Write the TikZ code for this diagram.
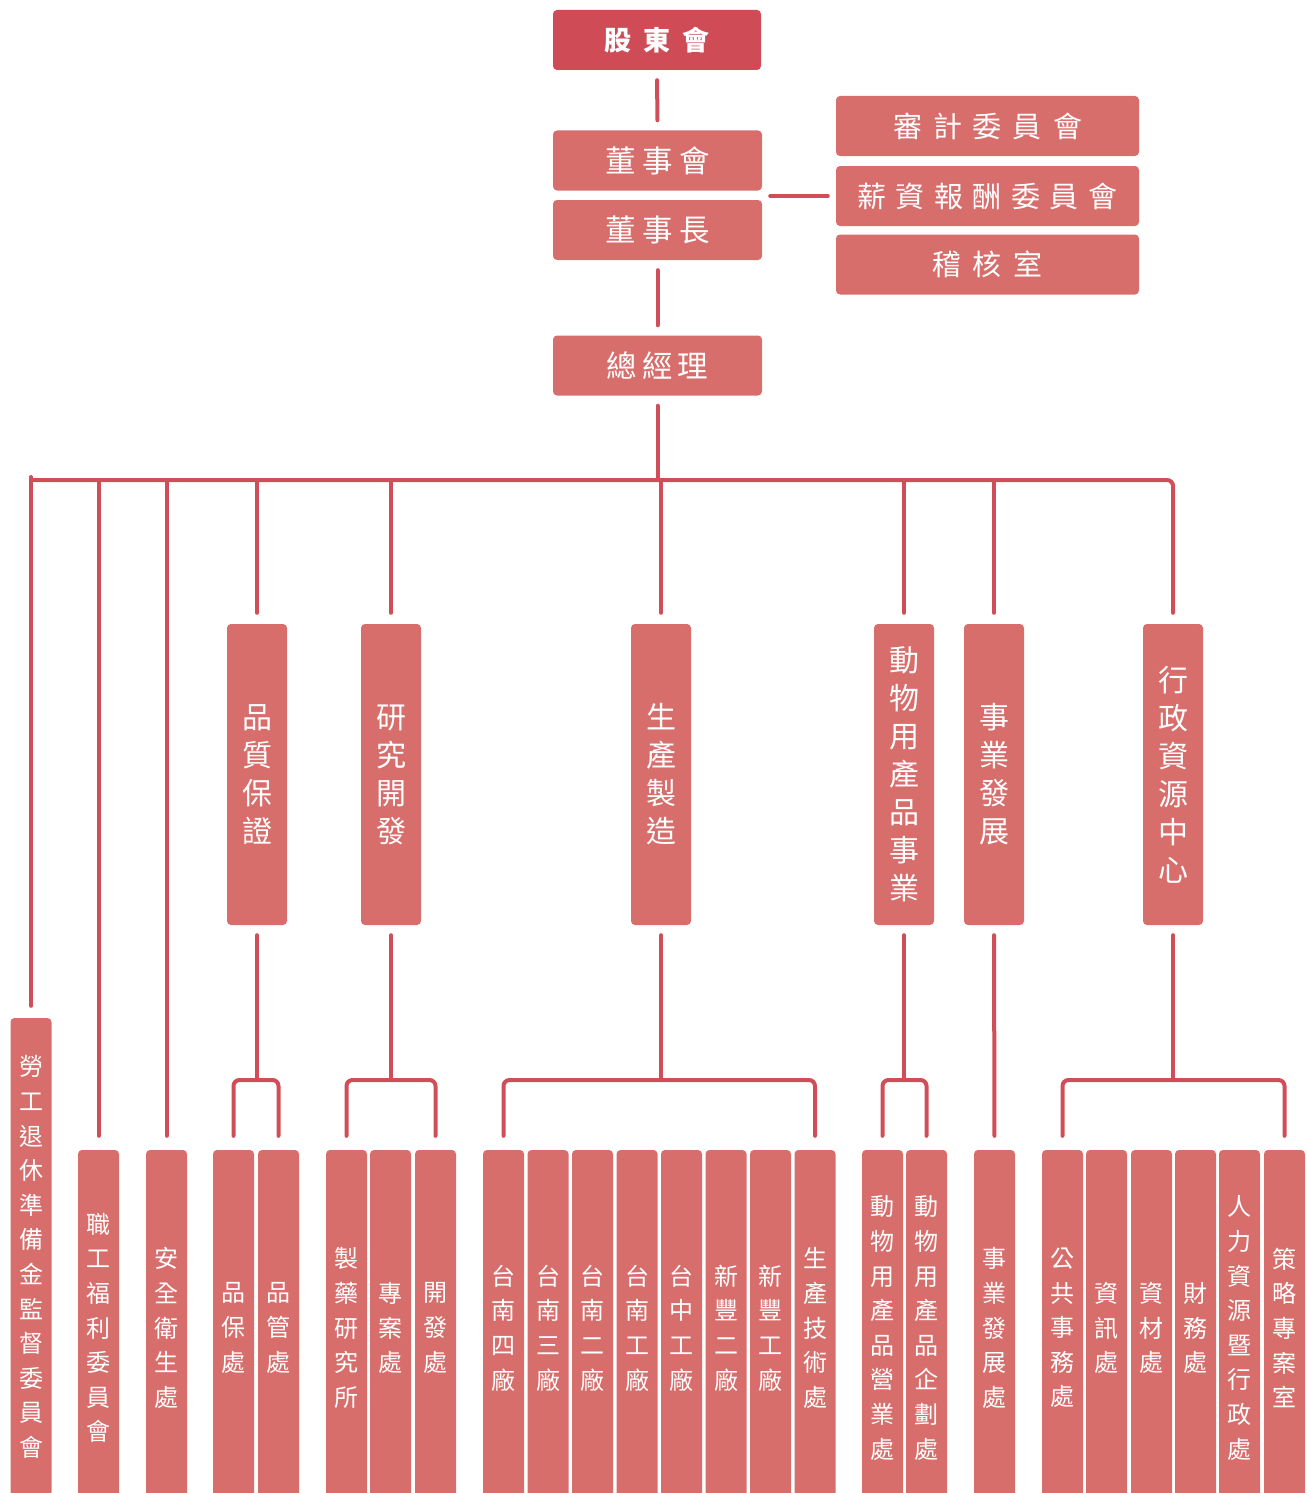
\documentclass[tikz,border=0pt]{standalone}
\usepackage{fontspec}
\newfontfamily\cjk{Noto Sans CJK TC}
\usetikzlibrary{calc}
\definecolor{boxc}{HTML}{D76E6C}
\definecolor{topc}{HTML}{CF4B55}
\definecolor{linec}{HTML}{D04E58}
\begin{document}
\begin{tikzpicture}[x=1pt,y=-1pt,
  box/.style={fill=boxc, rounded corners=4pt, inner sep=0pt, text=white},
  topbox/.style={box, fill=topc, minimum width=208pt, minimum height=60pt, font=\cjk\bfseries\fontsize{27}{32}\selectfont},
  hbox/.style={box, minimum width=209pt, minimum height=60pt, font=\cjk\fontsize{30.5}{34}\selectfont},
  rbox/.style={box, minimum width=303pt, minimum height=60pt, font=\cjk\fontsize{29}{34}\selectfont},
  mbox/.style={box, minimum width=60pt, minimum height=301pt, align=center, font=\cjk\fontsize{30}{38}\selectfont},
  bbox/.style={box, minimum width=41pt, minimum height=356pt, align=center, font=\cjk\fontsize{24}{34.6}\selectfont},
  conn/.style={draw=linec, line width=4pt, line cap=round, rounded corners=6pt}
]
\useasboundingbox (0,0) rectangle (1308,1493);
\clip (0,0) rectangle (1308,1493);

% top part
\node[topbox] (sh) at (657,40) {股\hspace{12.5pt}東\hspace{12.5pt}會};
\node[hbox] (board) at (657.5,160.5) {董\hspace{6.5pt}事\hspace{6.5pt}會};
\node[hbox] (chair) at (657.5,230) {董\hspace{6.5pt}事\hspace{6.5pt}長};
\node[hbox] (gm) at (657.5,365.5) {總\hspace{5pt}經\hspace{5pt}理};
\node[rbox] (audit) at (987.5,126) {審\hspace{11pt}計\hspace{11pt}委\hspace{11pt}員\hspace{11pt}會};
\node[rbox] (salary) at (987.5,196) {薪\hspace{9.5pt}資\hspace{9.5pt}報\hspace{9.5pt}酬\hspace{9.5pt}委\hspace{9.5pt}員\hspace{9.5pt}會};
\node[rbox] (audoff) at (987.5,264.5) {稽\hspace{12pt}核\hspace{12pt}室};

% middle
\node[mbox] (qa) at (257,774.5) {品\\質\\保\\證};
\node[mbox] (rd) at (391,774.5) {研\\究\\開\\發};
\node[mbox] (mfg) at (661,774.5) {生\\產\\製\\造};
\node[mbox] (ani) at (904,774.5) {動\\物\\用\\產\\品\\事\\業};
\node[mbox] (biz) at (994,774.5) {事\\業\\發\\展};
\node[mbox] (adm) at (1173,774.5) {行\\政\\資\\源\\中\\心};

% bottom
\node[bbox, minimum height=478pt] (lw) at (31,1257) {勞\\工\\退\\休\\準\\備\\金\\監\\督\\委\\員\\會};
\node[bbox] (ws) at (98.5,1328) {職\\工\\福\\利\\委\\員\\會};
\node[bbox] (shc) at (166.5,1328) {安\\全\\衛\\生\\處};
\node[bbox] (qa1) at (233.5,1328) {品\\保\\處};
\node[bbox] (qa2) at (278.5,1328) {品\\管\\處};
\node[bbox] (rd1) at (346.5,1328) {製\\藥\\研\\究\\所};
\node[bbox] (rd2) at (390.5,1328) {專\\案\\處};
\node[bbox] (rd3) at (435.5,1328) {開\\發\\處};
\node[bbox] (mf1) at (503.5,1328) {台\\南\\四\\廠};
\node[bbox] (mf2) at (548,1328) {台\\南\\三\\廠};
\node[bbox] (mf3) at (592.5,1328) {台\\南\\二\\廠};
\node[bbox] (mf4) at (637,1328) {台\\南\\工\\廠};
\node[bbox] (mf5) at (681.5,1328) {台\\中\\工\\廠};
\node[bbox] (mf6) at (726,1328) {新\\豐\\二\\廠};
\node[bbox] (mf7) at (770.5,1328) {新\\豐\\工\\廠};
\node[bbox] (mf8) at (815,1328) {生\\產\\技\\術\\處};
\node[bbox] (an1) at (882.5,1328) {動\\物\\用\\產\\品\\營\\業\\處};
\node[bbox] (an2) at (926.5,1328) {動\\物\\用\\產\\品\\企\\劃\\處};
\node[bbox] (bd) at (994.5,1328) {事\\業\\發\\展\\處};
\node[bbox] (ad1) at (1062.5,1328) {公\\共\\事\\務\\處};
\node[bbox] (ad2) at (1106.5,1328) {資\\訊\\處};
\node[bbox] (ad3) at (1151.5,1328) {資\\材\\處};
\node[bbox] (ad4) at (1195.5,1328) {財\\務\\處};
\node[bbox] (ad5) at (1239.5,1328) {人\\力\\資\\源\\暨\\行\\政\\處};
\node[bbox] (ad6) at (1284.5,1328) {策\\略\\專\\案\\室};

% connectors
\coordinate (bus) at (0,480);
\coordinate (br) at (0,1080);
\draw[conn, shorten <=10pt, shorten >=10pt] (sh.south) -- (board.north);
\draw[conn, shorten <=10pt, shorten >=10pt] (chair.south) -- (gm.north);
\draw[conn, shorten <=8pt, shorten >=8pt] (salary.west) -- (salary.west -| board.east);
\draw[conn, shorten <=10pt] (gm.south) -- (gm.south |- bus);
\draw[conn, shorten <=12pt, shorten >=-3pt] (lw.north) -- (lw.north |- bus);
\draw[conn, shorten >=11pt] (lw.north |- bus) -- (adm.north |- bus) -- (adm.north);
\foreach \n in {ws,shc}{
  \draw[conn, shorten <=14pt] (\n.north) -- (\n.north |- bus);
}
\foreach \n in {qa,rd,mfg,ani,biz}{
  \draw[conn, shorten <=11pt] (\n.north) -- (\n.north |- bus);
}
% brackets
\foreach \p/\a/\b in {qa/qa1/qa2, rd/rd1/rd3, mfg/mf1/mf8, ani/an1/an2, adm/ad1/ad6}{
  \draw[conn, shorten <=10pt] (\p.south) -- (\p.south |- br);
  \draw[conn, shorten <=14pt, shorten >=14pt] (\a.north) -- (\a.north |- br) -- (\b.north |- br) -- (\b.north);
}
\draw[conn, shorten <=10pt, shorten >=14pt] (biz.south) -- (bd.north);
\end{tikzpicture}
\end{document}
